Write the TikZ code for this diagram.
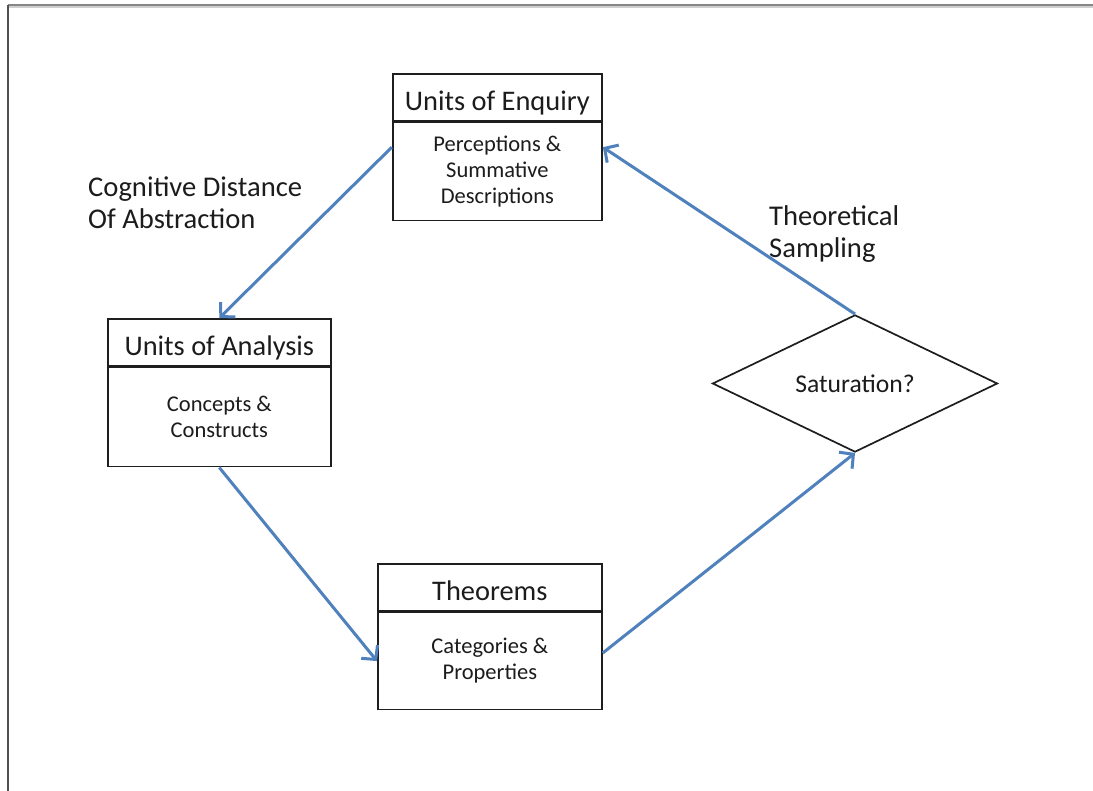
\documentclass[tikz,border=0pt]{standalone}
\usepackage{fontspec}
\setmainfont{Carlito}
\usetikzlibrary{arrows.meta,shapes.geometric,fit,calc}
\definecolor{flowblue}{RGB}{79,129,189}
\definecolor{edgegray}{RGB}{30,30,30}
\definecolor{inkgray}{RGB}{28,28,28}
\definecolor{frametop}{RGB}{135,135,135}
\definecolor{frameleft}{RGB}{80,80,80}
\begin{document}
\begin{tikzpicture}[x=1pt,y=-1pt,
  boxpart/.style={draw=edgegray, line width=1.7pt, fill=white, inner sep=0pt, text=inkgray},
  headpart/.style={boxpart, minimum height=47pt, text height=27pt, text depth=0pt,
    font=\fontsize{28.4}{34}\selectfont},
  bodypart/.style={boxpart, align=center, font=\fontsize{22.5}{26}\selectfont},
  decision/.style={draw=edgegray, line width=1.7pt, fill=white, diamond, inner sep=0pt,
    text=inkgray, font=\fontsize{25.6}{30}\selectfont},
  flow/.style={draw=flowblue, line width=3pt, -{Straight Barb[length=10pt,width=21pt]}},
  note/.style={align=left, inner sep=0pt, anchor=base west, text=inkgray,
    font=\fontsize{28.6}{32.5}\selectfont}
]
\fill[white] (0,0) rectangle (1093,791);
\useasboundingbox (0,0) rectangle (1093,791);

% page frame
\coordinate (fTL) at (8,5);
\coordinate (fTR) at (1093,5);
\coordinate (fBL) at (8,791);
\draw[frametop!40, line width=2pt] ($(fTL)+(0,2.5)$) -- ($(fTR)+(0,2.5)$);
\draw[frametop, line width=2pt] (fTL) -- (fTR);
\draw[frameleft, line width=2.2pt] (fTL) -- (fBL);

% Units of Enquiry
\node[headpart, minimum width=209pt, anchor=north west] (enqH) at (392,73) {Units of Enquiry};
\node[bodypart, minimum width=209pt, minimum height=98pt, anchor=north] (enqB) at (enqH.south)
  {Perceptions \&\\Summative\\Descriptions};
\node[fit=(enqH)(enqB), inner sep=0pt] (enq) {};

% Units of Analysis
\node[headpart, minimum width=223pt, anchor=north west] (anaH) at (107,318) {Units of Analysis};
\node[bodypart, minimum width=223pt, minimum height=99pt, anchor=north] (anaB) at (anaH.south)
  {Concepts \&\\Constructs};
\node[fit=(anaH)(anaB), inner sep=0pt] (ana) {};

% Theorems
\node[headpart, minimum width=224pt, anchor=north west] (thmH) at (377,563) {Theorems};
\node[bodypart, minimum width=224pt, minimum height=97pt, anchor=north] (thmB) at (thmH.south)
  {Categories \&\\Properties};
\node[fit=(thmH)(thmB), inner sep=0pt] (thm) {};

% decision
\node[decision, minimum width=285pt, minimum height=125pt] (sat) at (855,383.5) {Saturation?};

% side notes (anchored at the baseline of the last line)
\node[note] (cog) at (88,229) {Cognitive Distance\\Of Abstraction};
\node[note] (samp) at (769,258) {Theoretical\\Sampling};

% cycle
\draw[flow] (enq.west) -- (anaH.north);
\draw[flow] (ana.south) -- (thmB.west);
\draw[flow] ($(thmB.east)+(0,-8)$) -- (sat.south);
\draw[flow] (sat.north) -- (enq.east);
\end{tikzpicture}
\end{document}
